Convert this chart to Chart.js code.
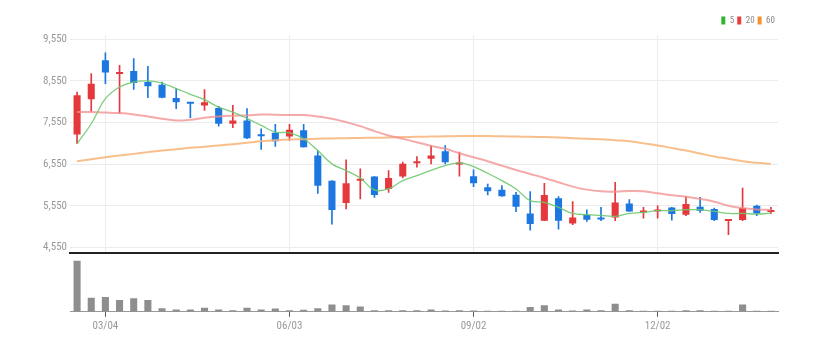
<!DOCTYPE html>
<html>
<head>
<meta charset="utf-8">
<script src="https://cdn.jsdelivr.net/npm/chart.js@4"></script>
<style>
  html, body { margin: 0; padding: 0; background: #fff; overflow: hidden; }
  #priceChart { position: absolute; left: 0; top: 8px; }
  #volumeChart { position: absolute; left: 0; top: 253px; }
</style>
</head>
<body>
<canvas id="priceChart" width="830" height="255"></canvas>
<canvas id="volumeChart" width="830" height="99"></canvas>
<script>
// weekly candles
const labels = [
  "02/18", "02/25", "03/04", "03/11", "03/18", "03/25", "04/01", "04/08", "04/15", "04/22",
  "04/29", "05/06", "05/13", "05/20", "05/27", "06/03", "06/10", "06/17", "06/24", "07/01",
  "07/08", "07/15", "07/22", "07/29", "08/05", "08/12", "08/19", "08/26", "09/02", "09/09",
  "09/16", "09/23", "09/30", "10/07", "10/14", "10/21", "10/28", "11/04", "11/11", "11/18",
  "11/25", "12/02", "12/09", "12/16", "12/23", "12/30", "01/06", "01/13", "01/20", "01/27"
];
const shownLabels = ["03/04", "06/03", "09/02", "12/02"];

const opens = [
  7263, 8106, 9045, 8715, 8787, 8522, 8459, 8137, 8034, 7961,
  7897, 7521, 7600, 7256, 7304, 7215, 7367, 6758, 6156, 5619,
  6156, 6253, 5956, 6253, 6573, 6678, 6862, 6541, 6260, 5995,
  5940, 5819, 5369, 5193, 5731, 5129, 5338, 5258, 5273, 5610,
  5393, 5417, 5514, 5338, 5530, 5474, 5185, 5210, 5554, 5402
];
const closes = [
  8202, 8483, 8748, 8748, 8498, 8419, 8147, 8034, 8002, 8034,
  7521, 7600, 7170, 7223, 7102, 7376, 6958, 6036, 5451, 6092,
  6188, 5812, 6221, 6558, 6597, 6758, 6597, 6582, 6092, 5899,
  5779, 5530, 5113, 5812, 5193, 5273, 5217, 5225, 5634, 5417,
  5434, 5466, 5354, 5595, 5434, 5210, 5217, 5498, 5369, 5450
];
const highs = [
  8282, 8724, 9220, 8924, 9085, 8900, 8522, 8363, 8034, 8339,
  7937, 7961, 7882, 7400, 7504, 7504, 7504, 6878, 6156, 6654,
  6438, 6253, 6397, 6600, 6734, 6999, 6999, 6838, 6413, 6076,
  6036, 5876, 5892, 6092, 5771, 5651, 5458, 5514, 6116, 5699,
  5514, 5554, 5514, 5771, 5755, 5498, 5217, 5980, 5570, 5514
];
const lows = [
  7040, 7824, 8483, 7762, 8347, 8147, 8140, 7882, 7665, 7841,
  7463, 7425, 7160, 6902, 6975, 7119, 6958, 5851, 5114, 5475,
  5716, 5755, 5876, 6221, 6476, 6558, 6558, 6260, 6012, 5812,
  5779, 5410, 4969, 5193, 4993, 5097, 5177, 5193, 5193, 5417,
  5258, 5258, 5210, 5314, 5393, 5193, 4857, 5193, 5314, 5369
];

const ma5 = [
  7040, 7521, 8122, 8402, 8522, 8547, 8498, 8363, 8226, 8098,
  7920, 7800, 7650, 7480, 7320, 7304, 7160, 6878, 6558, 6397,
  6221, 5932, 5956, 6156, 6277, 6400, 6517, 6582, 6493, 6332,
  6156, 5956, 5675, 5634, 5514, 5369, 5338, 5320, 5300, 5369,
  5393, 5434, 5434, 5458, 5458, 5417, 5369, 5369, 5354, 5378
];
const ma20 = [
  7800, 7800, 7790, 7776, 7745, 7697, 7641, 7600, 7617, 7665,
  7697, 7713, 7720, 7745, 7735, 7729, 7729, 7697, 7641, 7560,
  7463, 7343, 7240, 7160, 7078, 6990, 6919, 6814, 6717, 6621,
  6517, 6413, 6317, 6221, 6116, 6012, 5940, 5899, 5892, 5905,
  5899, 5851, 5803, 5771, 5716, 5651, 5554, 5498, 5466, 5450
];
const ma60 = [
  6621, 6670, 6717, 6760, 6798, 6840, 6878, 6910, 6943, 6970,
  6999, 7030, 7064, 7100, 7125, 7143, 7150, 7160, 7168, 7175,
  7180, 7184, 7192, 7200, 7208, 7215, 7220, 7224, 7224, 7224,
  7220, 7215, 7208, 7200, 7190, 7175, 7160, 7150, 7125, 7100,
  7050, 6999, 6940, 6878, 6805, 6734, 6680, 6621, 6585, 6558
];

const volumes = [
  520000, 143000, 150000, 120000, 137000, 120000, 37000, 23000, 23000, 40000,
  23000, 17000, 40000, 23000, 33000, 17000, 20000, 37000, 73000, 67000,
  53000, 17000, 17000, 17000, 17000, 23000, 13000, 17000, 13000, 10000,
  10000, 10000, 50000, 67000, 23000, 13000, 23000, 17000, 83000, 17000,
  10000, 10000, 10000, 17000, 17000, 10000, 10000, 73000, 10000, 10000
];

const yTicks = [4550, 5550, 6550, 7550, 8550, 9550];

const UP = "#e5383d";
const DOWN = "#1c78e0";
const candleColors = opens.map((o, i) => closes[i] >= o ? UP : DOWN);

const maLines = [
  { name: "5", data: ma5, color: "rgba(110,200,110,0.9)", legend: "#2fb52f", width: 1.3 },
  { name: "20", data: ma20, color: "rgba(242,140,140,0.75)", legend: "#ee3b3b", width: 2 },
  { name: "60", data: ma60, color: "rgba(247,180,120,0.85)", legend: "#f5922a", width: 2 }
];

const narrow = "'Liberation Sans Narrow', 'Roboto Condensed', 'Liberation Sans', sans-serif";
Chart.defaults.font.family = "'Liberation Sans', Arial, sans-serif";
Chart.defaults.animation = false;

const gridColorForX = ctx => shownLabels.includes(labels[ctx.index]) ? "#ececec" : "rgba(0,0,0,0)";

new Chart(document.getElementById("priceChart"), {
  data: {
    labels: labels,
    datasets: [
      ...maLines.map(m => ({
        type: "line",
        label: m.name,
        data: m.data,
        borderColor: m.color,
        borderWidth: m.width,
        pointRadius: 0,
        tension: 0.4,
        order: 0
      })),
      {
        type: "bar",
        label: "body",
        data: opens.map((o, i) => [o, closes[i]]),
        backgroundColor: candleColors,
        barPercentage: 0.5,
        categoryPercentage: 1,
        minBarLength: 2,
        grouped: false,
        order: 1
      },
      {
        type: "bar",
        label: "wick",
        data: lows.map((l, i) => [l, highs[i]]),
        backgroundColor: candleColors,
        barThickness: 1,
        grouped: false,
        order: 2
      }
    ]
  },
  options: {
    responsive: false,
    layout: { padding: { left: 0, right: 52, top: 5, bottom: 2 } },
    plugins: {
      tooltip: { enabled: false },
      legend: {
        position: "top",
        align: "end",
        labels: {
          boxWidth: 4,
          boxHeight: 8,
          padding: 3,
          color: "#888",
          font: { size: 9, family: narrow },
          generateLabels: () => maLines.map((m, i) => ({
            text: m.name,
            fillStyle: m.legend,
            strokeStyle: m.legend,
            lineWidth: 0,
            hidden: false,
            datasetIndex: i,
            fontColor: "#888"
          }))
        }
      }
    },
    scales: {
      x: {
        offset: true,
        grid: { color: gridColorForX, drawTicks: false, offset: false },
        ticks: { display: false, autoSkip: false },
        border: { color: "#222", width: 2 }
      },
      y: {
        min: 4410,
        max: 9650,
        afterBuildTicks: s => { s.ticks = yTicks.map(v => ({ value: v })); },
        afterFit: s => { s.width = 70; },
        grid: { color: "#ececec", drawTicks: false },
        border: { display: false },
        ticks: {
          padding: 3,
          color: "#999",
          font: { size: 11, family: narrow },
          callback: v => v.toLocaleString("en-US")
        }
      }
    }
  }
});

new Chart(document.getElementById("volumeChart"), {
  type: "bar",
  data: {
    labels: labels,
    datasets: [{
      label: "volume",
      data: volumes,
      backgroundColor: "#8e8e8e",
      barPercentage: 0.5,
      categoryPercentage: 1
    }]
  },
  options: {
    responsive: false,
    layout: { padding: { left: 70, right: 52, top: 4, bottom: 16 } },
    plugins: { legend: { display: false }, tooltip: { enabled: false } },
    scales: {
      x: {
        grid: {
          color: "rgba(0,0,0,0)",
          tickColor: ctx => shownLabels.includes(labels[ctx.index]) ? "#555" : "rgba(0,0,0,0)",
          tickLength: 5,
          offset: false
        },
        border: { color: "#999", width: 1 },
        ticks: {
          autoSkip: false,
          maxRotation: 0,
          minRotation: 0,
          padding: 3,
          color: "#999",
          font: { size: 11, family: narrow },
          callback: (v, i) => shownLabels.includes(labels[i]) ? labels[i] : ""
        }
      },
      y: { display: false, min: 0, max: 557000 }
    }
  }
});
</script>
</body>
</html>
